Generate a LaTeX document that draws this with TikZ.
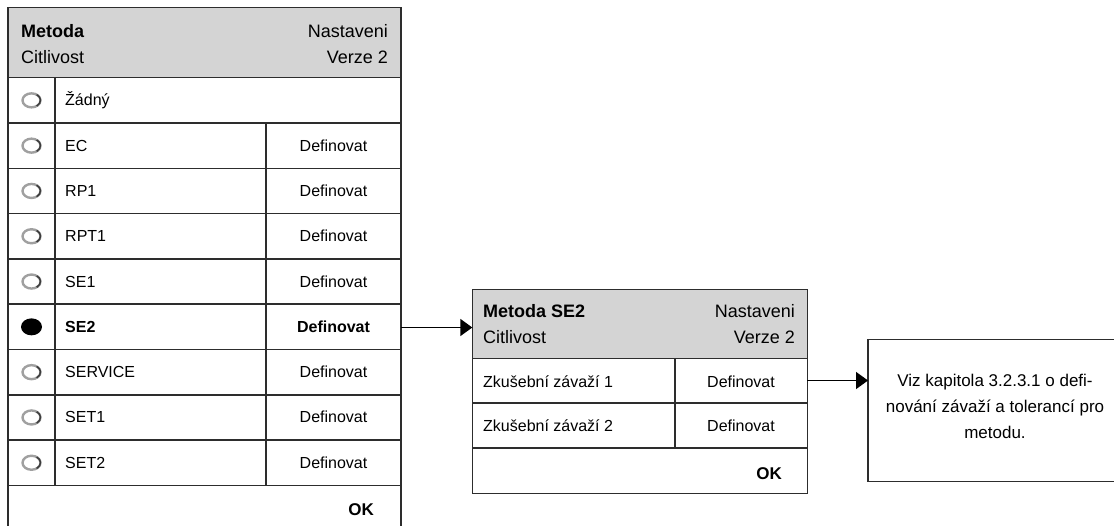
\documentclass[tikz,border=0pt]{standalone}
\usepackage{fontspec}
\setmainfont{Liberation Sans}
\usetikzlibrary{arrows.meta}
\definecolor{hdrfill}{RGB}{212,212,212}
\definecolor{ink}{RGB}{45,45,45}
\definecolor{ringlight}{RGB}{160,160,160}
\definecolor{ringdark}{RGB}{60,60,60}

\tikzset{
  frame/.style={draw=ink, line width=1.5pt, inner sep=0pt, outer sep=0pt, anchor=north west},
  grid/.style={draw=ink, line width=1.5pt},
  hdrbold/.style={inner sep=0pt, font=\fontsize{18}{21}\selectfont\bfseries},
  hdrtxt/.style={inner sep=0pt, font=\fontsize{18}{21}\selectfont},
  rowtxt/.style={inner sep=0pt, font=\fontsize{16}{19}\selectfont},
  rowbold/.style={inner sep=0pt, font=\fontsize{16}{19}\selectfont\bfseries},
  oktxt/.style={inner sep=0pt, font=\fontsize{17}{20}\selectfont\bfseries},
  notetxt/.style={inner sep=0pt, align=center, font=\fontsize{17}{26}\selectfont},
  link/.style={draw=black, line width=1.6pt, -{Triangle[length=12pt, width=17pt]}},
}

\begin{document}
\begin{tikzpicture}[x=1pt, y=-1pt]
\useasboundingbox (0,0) rectangle (1114,525);
\clip (0,0) rectangle (1114,525);

% ---------- method list ----------
\fill[hdrfill] (8,7.5) rectangle (401,77.7);
\node[frame, minimum width=393pt, minimum height=540pt] (menu) at (8,7.5) {};
\foreach \k in {0,...,9}
  \draw[grid] (8,77.7+45.3*\k) -- (401,77.7+45.3*\k);
\draw[grid] (55,77.7) -- (55,485.4);
\draw[grid] (266,123) -- (266,485.4);

\node[hdrbold, anchor=base west] (mTitle) at (21,37) {Metoda};
\node[hdrtxt, anchor=base west] (mSub) at (21,63) {Citlivost};
\node[hdrtxt, anchor=base east] (mSet) at (388,37) {Nastaveni};
\node[hdrtxt, anchor=base east] (mVer) at (388,63) {Verze 2};

% rows: index and label
\foreach \k/\name in {0/Žádný,1/EC,2/RP1,3/RPT1,4/SE1,6/SERVICE,7/SET1,8/SET2} {
  \pgfmathsetmacro{\yc}{77.7+45.3*\k+22.65}
  \draw[ringlight, line width=2.4pt] (31.5,\yc) ellipse (9pt and 7pt);
  \draw[ringdark, line width=1.5pt] (31.5,\yc) ++(-55:9pt and 7pt) arc[start angle=-55, end angle=55, x radius=9pt, y radius=7pt];
  \node[rowtxt, anchor=base west] (row\k) at (65,\yc+5.5) {\name};
}
\foreach \k in {1,2,3,4,6,7,8} {
  \pgfmathsetmacro{\yc}{77.7+45.3*\k+22.65}
  \node[rowtxt, anchor=base] (def\k) at (333.5,\yc+5.5) {Definovat};
}
% selected entry
\fill[black] (31.5,326.85) ellipse (10.5pt and 8.5pt);
\node[rowbold, anchor=base west] (row5) at (65,332.35) {SE2};
\node[rowbold, anchor=base] (def5) at (333.5,332.35) {Definovat};
\coordinate (se2row) at (333.5,327.5);

\node[oktxt, anchor=base east] (menuOK) at (374,515.7) {OK};

% ---------- SE2 settings ----------
\fill[hdrfill] (472.3,289.3) rectangle (807.3,358.3);
\node[frame, minimum width=335pt, minimum height=204pt] (sub) at (472.3,289.3) {};
\draw[grid] (472.3,358.3) -- (807.3,358.3);
\draw[grid] (472.3,403) -- (807.3,403);
\draw[grid] (472.3,448) -- (807.3,448);
\draw[grid] (675,358.3) -- (675,448);

\node[hdrbold, anchor=base west] (sTitle) at (483,317) {Metoda SE2};
\node[hdrtxt, anchor=base west] (sSub) at (483,343) {Citlivost};
\node[hdrtxt, anchor=base east] (sSet) at (795,317) {Nastaveni};
\node[hdrtxt, anchor=base east] (sVer) at (795,343) {Verze 2};

\node[rowtxt, anchor=base west] (w1) at (483,387) {Zkušební závaží 1};
\node[rowtxt, anchor=base] (wd1) at (741,387) {Definovat};
\node[rowtxt, anchor=base west] (w2) at (483,431.5) {Zkušební závaží 2};
\node[rowtxt, anchor=base] (wd2) at (741,431.5) {Definovat};
\coordinate (w1row) at (741,380.5);

\node[oktxt, anchor=base east] (subOK) at (782,479.3) {OK};

% ---------- reference note ----------
\node[frame, minimum width=260pt, minimum height=142pt] (note) at (868,339.5) {};
\node[notetxt] (noteText) at (995,406) {Viz kapitola 3.2.3.1 o defi-\\nování závaží a tolerancí pro\\metodu.};

% ---------- connectors ----------
\draw[link] (menu.east |- se2row) -- (sub.west |- se2row);
\draw[link] (sub.east |- w1row) -- (note.west |- w1row);
\end{tikzpicture}
\end{document}
